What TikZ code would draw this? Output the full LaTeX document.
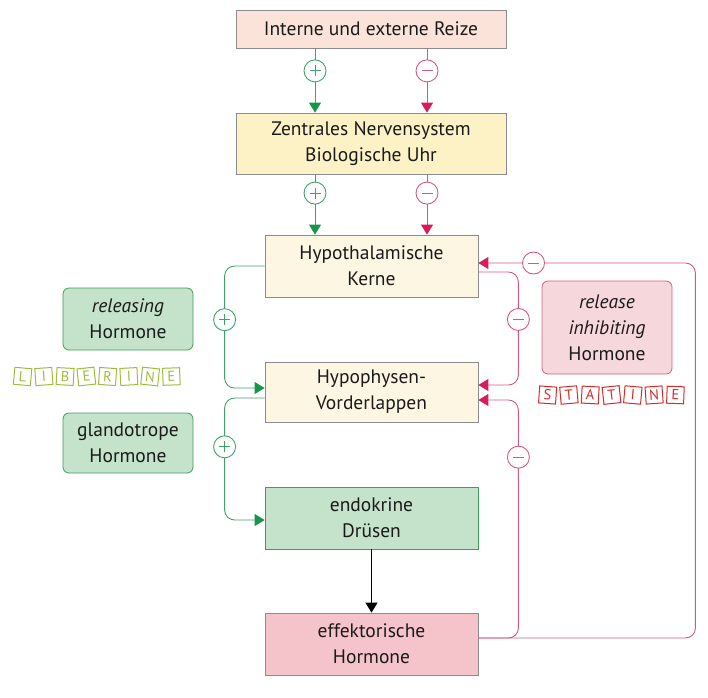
\documentclass[tikz,border=0pt]{standalone}
\usepackage{fontspec}
\setmainfont{PT Sans}
\usetikzlibrary{arrows.meta,calc}
\definecolor{txt}{HTML}{1A1A1A}
\definecolor{bgray}{HTML}{8C8C8C}
\definecolor{fpeach}{HTML}{FBE3D9}
\definecolor{fyellow}{HTML}{FDF2C6}
\definecolor{fcream}{HTML}{FDF6E3}
\definecolor{fgreen}{HTML}{C4E3CA}
\definecolor{bgreen}{HTML}{3E9E5E}
\definecolor{fpink}{HTML}{F5C3CA}
\definecolor{fpinkl}{HTML}{F6D8DC}
\definecolor{bpink}{HTML}{D0607F}
\definecolor{gline}{HTML}{3DA36A}
\definecolor{ghead}{HTML}{16964A}
\definecolor{rline}{HTML}{D25A82}
\definecolor{rhead}{HTML}{D81B5A}
\definecolor{olive}{HTML}{9CBD3E}
\definecolor{sred}{HTML}{D42A2A}
\tikzset{
  mainbox/.style={draw=bgray, line width=0.8pt, text=txt, align=center,
    font=\fontsize{19.5}{26}\selectfont, inner sep=0pt},
  sidebox/.style={draw=bgreen, fill=fgreen, line width=0.8pt, rounded corners=6pt,
    text=txt, align=center, font=\fontsize{19.5}{26}\selectfont, inner sep=0pt,
    minimum width=130pt},
  gconn/.style={draw=gline, line width=0.9pt, rounded corners=10pt,
    -{Triangle[length=10pt,width=12pt,color=ghead]}},
  rconn/.style={draw=rline, line width=0.9pt, rounded corners=10pt,
    -{Triangle[length=10pt,width=12pt,color=rhead]}},
  pc/.style={circle, draw=gline, fill=white, line width=0.9pt, minimum size=22pt,
    inner sep=0pt, path picture={\draw[-,gline,line width=0.9pt]
      ([xshift=-5.5pt]path picture bounding box.center) -- ([xshift=5.5pt]path picture bounding box.center)
      ([yshift=-5.5pt]path picture bounding box.center) -- ([yshift=5.5pt]path picture bounding box.center);}},
  mc/.style={circle, draw=rline, fill=white, line width=0.9pt, minimum size=22pt,
    inner sep=0pt, path picture={\draw[-,rline,line width=0.9pt]
      ([xshift=-5.5pt]path picture bounding box.center) -- ([xshift=5.5pt]path picture bounding box.center);}},
  lbox/.style={draw, line width=1pt, minimum size=17pt, inner sep=0pt,
    font=\fontsize{14.5}{14.5}\selectfont},
}
\begin{document}
\begin{tikzpicture}[x=1pt,y=-1pt]
\useasboundingbox (0,0) rectangle (708,697);
% main boxes
\node[mainbox, fill=fpeach, minimum width=270pt, minimum height=38pt] (b1) at (371,29) {Interne und externe Reize};
\node[mainbox, fill=fyellow, minimum width=270pt, minimum height=61pt] (b2) at (371,143.5) {Zentrales Nervensystem\\Biologische Uhr};
\node[mainbox, fill=fcream, minimum width=213pt, minimum height=62pt] (b3) at (371.5,266) {Hypothalamische\\Kerne};
\node[mainbox, fill=fcream, minimum width=213pt, minimum height=60pt] (b4) at (371.5,392) {Hypophysen-\\Vorderlappen};
\node[mainbox, draw=bgreen, fill=fgreen, minimum width=213pt, minimum height=62pt] (b5) at (371.5,518) {endokrine\\Drüsen};
\node[mainbox, fill=fpink, minimum width=213pt, minimum height=62pt] (b6) at (371.5,644) {effektorische\\Hormone};
% side boxes
\node[sidebox, minimum height=62pt] (rh) at (128,319) {\textit{releasing}\\Hormone};
\node[sidebox, minimum height=60pt] (gh) at (128,443) {glandotrope\\Hormone};
\node[sidebox, draw=bpink, fill=fpinkl, minimum height=93pt] (rih) at (607,327.5) {\textit{release}\\\textit{inhibiting}\\Hormone};
% vertical arrows
\draw[gconn] ([xshift=-56pt]b1.south) -- node[pos=0.35,pc]{} ([xshift=-56pt]b2.north);
\draw[rconn] ([xshift=56pt]b1.south) -- node[pos=0.35,mc]{} ([xshift=56pt]b2.north);
\draw[gconn] ([xshift=-56pt]b2.south) -- node[pos=0.31,pc]{} ([xshift=-56.5pt]b3.north);
\draw[rconn] ([xshift=56pt]b2.south) -- node[pos=0.31,mc]{} ([xshift=55.5pt]b3.north);
\draw[-{Triangle[length=10pt,width=12pt]}, line width=0.9pt] (b5.south) -- (b6.north);
% left green loops
\draw[gconn] (b3.west) -- ++(-40,0) |- node[pos=0.22,pc]{} ([yshift=4pt]b4.west);
\draw[gconn] ([yshift=-6pt]b4.west) -- ++(-40,0) |- node[pos=0.2,pc]{} ([yshift=-2pt]b5.west);
% right red loops
\draw[rconn] ([yshift=-6pt]b3.east) -- ++(40,0) |- node[pos=0.21,mc]{} ([yshift=7pt]b4.east);
\draw[rconn] ([yshift=6pt]b6.east) -- ++(217,0) |- node[pos=0.873,mc]{} ([yshift=3pt]b3.east);
\draw[rconn] ([yshift=6pt]b6.east) -- ++(40,0) |- node[pos=0.38,mc]{} ([yshift=-8pt]b4.east);
% LIBERINE
\foreach \l/\r [count=\i] in {L/-5,I/4,B/-3,E/6,R/-4,I/3,N/-6,E/2}{
  \node[lbox, draw=olive, text=olive, rotate=\r] (lib\i) at ({22.6+21.25*(\i-1)},376.5) {\l};
}
% STATINE
\foreach \l/\r [count=\i] in {S/-4,T/5,A/-3,T/6,I/-5,N/4,E/-2}{
  \node[lbox, draw=sred, text=sred, rotate=\r] (sta\i) at ({547.6+21.3*(\i-1)},395) {\l};
}
\end{tikzpicture}
\end{document}
